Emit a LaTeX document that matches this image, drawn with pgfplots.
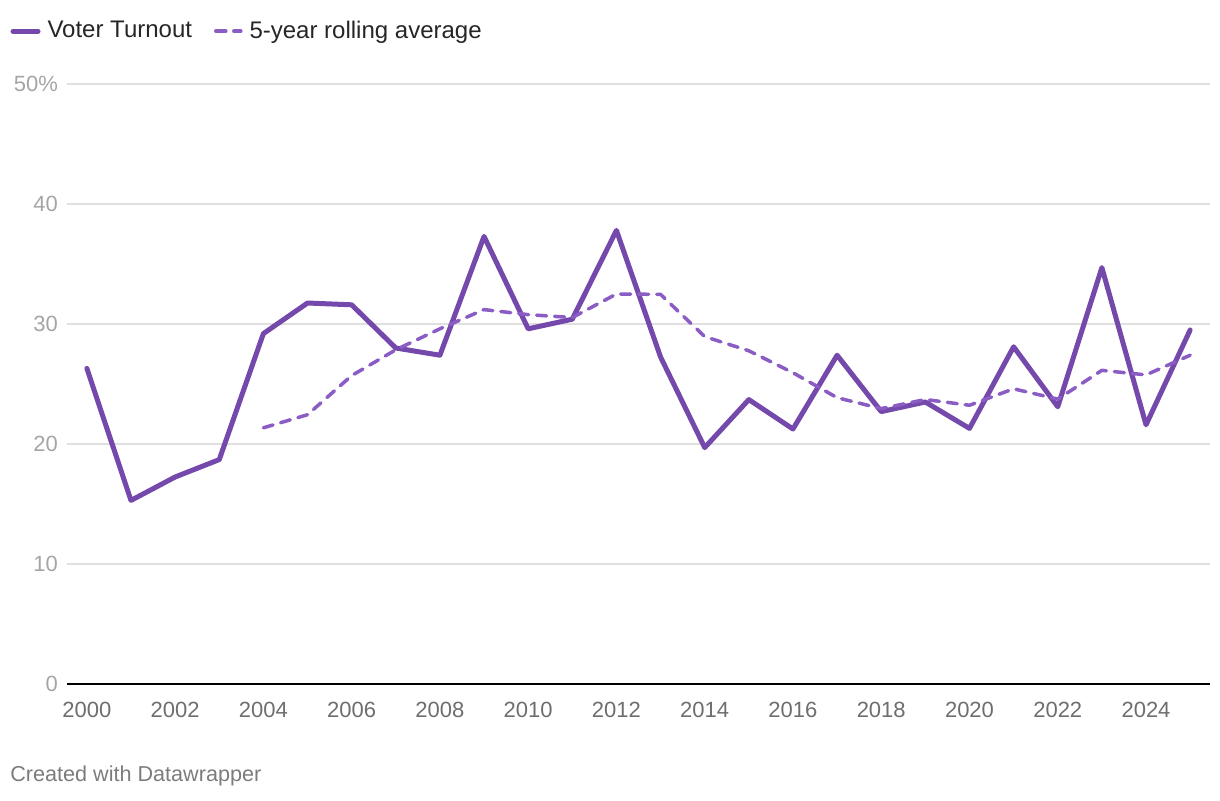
\documentclass[border=0pt]{standalone}
\usepackage{fontspec}
\setmainfont{Liberation Sans}
\usepackage{pgfplots}
\pgfplotsset{compat=1.18}
\definecolor{turnout}{RGB}{116,73,171}
\definecolor{rolling}{RGB}{138,92,196}
\definecolor{gridc}{RGB}{224,224,224}
\definecolor{ylab}{RGB}{165,165,165}
\definecolor{xlab}{RGB}{110,110,110}
\begin{document}
\begin{tikzpicture}
\useasboundingbox (0,0) rectangle (610pt,400pt);
\begin{axis}[
  at={(33.5pt,58pt)}, anchor=south west,
  scale only axis, width=571.5pt, height=300pt,
  xmin=1999.55, xmax=2025.45, ymin=0, ymax=50,
  xtick={2000,2002,...,2024},
  xticklabels={2000,2002,2004,2006,2008,2010,2012,2014,2016,2018,2020,2022,2024},
  ytick={0,10,20,30,40,50},
  yticklabels={0,10,20,30,40,50\%},
  /pgf/number format/assume math mode=true,
  x tick label style={font=\fontsize{11pt}{13pt}\selectfont, text=xlab, yshift=-5.5pt},
  y tick label style={font=\fontsize{11pt}{13pt}\selectfont, text=ylab, xshift=-1pt},
  major tick length=0pt,
  axis x line*=bottom, axis y line*=left,
  y axis line style={draw=none},
  x axis line style={black, line width=1pt, -},
  ymajorgrids, grid style={gridc, line width=0.6pt},
  clip=false,
  legend columns=2,
  legend style={at={(-0.055,1.088)}, anchor=west, draw=none, fill=none,
    font=\fontsize{12pt}{13pt}\selectfont, text=black!85,
    /tikz/every odd column/.append style={column sep=1.5pt},
    /tikz/every even column/.append style={column sep=9pt}},
  legend image code/.code={\draw[#1] (0pt,0pt) -- (12.5pt,0pt);},
]
\addplot[turnout, line width=2.5pt, line join=round, line cap=round] coordinates {
(2000,26.3) (2001,15.3) (2002,17.25) (2003,18.7) (2004,29.2) (2005,31.75)
(2006,31.6) (2007,28.0) (2008,27.4) (2009,37.3) (2010,29.6) (2011,30.4)
(2012,37.8) (2013,27.25) (2014,19.7) (2015,23.7) (2016,21.25) (2017,27.4)
(2018,22.7) (2019,23.5) (2020,21.3) (2021,28.1) (2022,23.1) (2023,34.7)
(2024,21.6) (2025,29.5)};
\addlegendentry{Voter Turnout}
\addplot[rolling, line width=1.75pt, dash pattern=on 5pt off 4pt, line join=round, line cap=round] coordinates {
(2004,21.35) (2005,22.44) (2006,25.7) (2007,27.85) (2008,29.6) (2009,31.2)
(2010,30.78) (2011,30.54) (2012,32.5) (2013,32.47) (2014,28.95) (2015,27.77)
(2016,25.94) (2017,23.86) (2018,22.95) (2019,23.71) (2020,23.23) (2021,24.6)
(2022,23.74) (2023,26.14) (2024,25.76) (2025,27.4)};
\addlegendentry{5-year rolling average}
\end{axis}
\node[anchor=west, text=xlab!90, font=\fontsize{10.8pt}{12pt}\selectfont, inner sep=0pt] at (5pt,12pt) {Created with Datawrapper};
\end{tikzpicture}
\end{document}
